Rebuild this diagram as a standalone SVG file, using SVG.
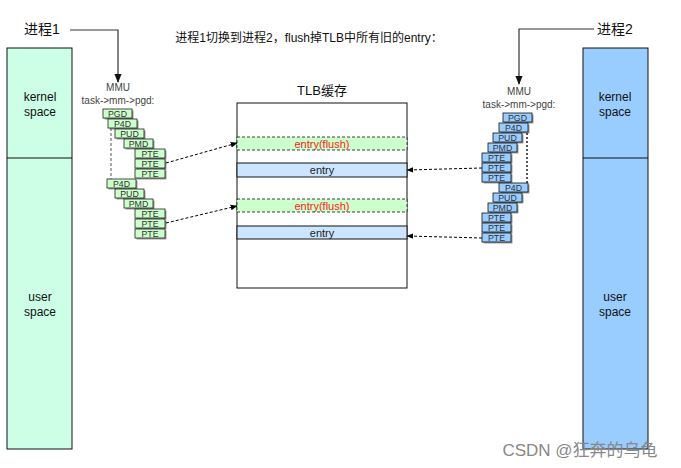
<svg xmlns="http://www.w3.org/2000/svg" width="681" height="468" viewBox="0 0 681 468">
<defs>
<style>
text{font-family:"Liberation Sans","Noto Sans CJK SC",sans-serif;}
.big{font-size:12px;fill:#111;text-anchor:middle;}
.lbl{font-size:8.8px;fill:#333;text-anchor:middle;}
.sm{font-size:10px;fill:#444;text-anchor:middle;}
.g{fill:#ccffcc;stroke:#222;stroke-width:0.8;}
.b{fill:#99ccff;stroke:#111;stroke-width:0.8;}
.sh{fill:#000;opacity:0.4;}
.dash{fill:none;stroke:#000;stroke-width:1;stroke-dasharray:3 2;}
.solid{fill:none;stroke:#333;stroke-width:1.2;}
</style>
<marker id="ah" viewBox="0 0 10 10" refX="9" refY="5" markerWidth="7" markerHeight="7" orient="auto" markerUnits="userSpaceOnUse">
<path d="M0,1 L10,5 L0,9 Z" fill="#000"/>
</marker>
<marker id="ah2" viewBox="0 0 10 10" refX="9" refY="5" markerWidth="9" markerHeight="9" orient="auto" markerUnits="userSpaceOnUse">
<path d="M0,1 L10,5 L0,9 Z" fill="#111"/>
</marker>
</defs>
<rect width="681" height="468" fill="#fff"/>

<text x="309" y="42" style="font-size:12px;fill:#111;text-anchor:middle">进程1切换到进程2，flush掉TLB中所有旧的entry：</text>

<g id="proc1">
<text x="42" y="34" style="font-size:14px;fill:#111;text-anchor:middle">进程1</text>
</g>
<g id="proc2">
<text x="615" y="34" style="font-size:14px;fill:#111;text-anchor:middle">进程2</text>
</g>

<g id="left-mem">
<rect x="7" y="48" width="65" height="401" fill="#ccffe6" stroke="#111" stroke-width="1"/>
<line x1="7" y1="158" x2="72" y2="158" stroke="#111" stroke-width="1"/>
<text class="big" x="40" y="101">kernel</text>
<text class="big" x="40" y="116">space</text>
<text class="big" x="40" y="301">user</text>
<text class="big" x="40" y="316">space</text>
</g>
<g id="right-mem">
<rect x="583" y="48" width="65" height="401" fill="#99ccff" stroke="#111" stroke-width="1"/>
<line x1="583" y1="158" x2="648" y2="158" stroke="#111" stroke-width="1"/>
<text class="big" x="615" y="101">kernel</text>
<text class="big" x="615" y="116">space</text>
<text class="big" x="615" y="301">user</text>
<text class="big" x="615" y="316">space</text>
</g>

<g id="mmu-left">
<text class="sm" x="118" y="91">MMU</text>
<text class="sm" x="118" y="104">task-&gt;mm-&gt;pgd:</text>
</g>
<g id="mmu-right">
<text class="sm" x="519" y="95">MMU</text>
<text class="sm" x="519" y="108">task-&gt;mm-&gt;pgd:</text>
</g>

<g id="tlb">
<text x="322" y="95" style="font-size:13px;fill:#111;text-anchor:middle">TLB缓存</text>
<rect x="237" y="103" width="170" height="185" fill="#fff" stroke="#111" stroke-width="1"/>
</g>
<g id="tlb-flush1">
<rect x="237" y="137" width="170" height="13" fill="#ccffcc" stroke="#111" stroke-width="0.8" stroke-dasharray="3 2"/>
<text x="322" y="147.5" style="font-size:11px;fill:#ff1a1a;text-anchor:middle">entry(flush)</text>
</g>
<g id="tlb-entry1">
<rect x="237" y="163" width="170" height="14" fill="#cce5ff" stroke="#111" stroke-width="1"/>
<text x="322" y="174" style="font-size:11px;fill:#222;text-anchor:middle">entry</text>
</g>
<g id="tlb-flush2">
<rect x="237" y="199" width="170" height="13" fill="#ccffcc" stroke="#111" stroke-width="0.8" stroke-dasharray="3 2"/>
<text x="322" y="209.5" style="font-size:11px;fill:#ff1a1a;text-anchor:middle">entry(flush)</text>
</g>
<g id="tlb-entry2">
<rect x="237" y="226" width="170" height="13" fill="#cce5ff" stroke="#111" stroke-width="1"/>
<text x="322" y="236.5" style="font-size:11px;fill:#222;text-anchor:middle">entry</text>
</g>

<!-- left page table stack -->
<g id="l-pgd"><rect class="sh" x="104.5" y="110.5" width="29" height="9"/><rect class="g" x="103" y="109" width="29" height="9"/><text class="lbl" x="117.5" y="116.6">PGD</text></g>
<g id="l-p4d1"><rect class="sh" x="109.5" y="120.5" width="29" height="9"/><rect class="g" x="108" y="119" width="29" height="9"/><text class="lbl" x="122.5" y="126.6">P4D</text></g>
<g id="l-pud1"><rect class="sh" x="116.5" y="130.5" width="29" height="9"/><rect class="g" x="115" y="129" width="29" height="9"/><text class="lbl" x="129.5" y="136.6">PUD</text></g>
<g id="l-pmd1"><rect class="sh" x="125.5" y="140.5" width="29" height="9"/><rect class="g" x="124" y="139" width="29" height="9"/><text class="lbl" x="138.5" y="146.6">PMD</text></g>
<g id="l-pte1"><rect class="sh" x="136.5" y="150.5" width="30" height="9"/><rect class="g" x="135" y="149" width="30" height="9"/><text class="lbl" x="150" y="156.6">PTE</text></g>
<g id="l-pte2"><rect class="sh" x="136.5" y="160.5" width="30" height="9"/><rect class="g" x="135" y="159" width="30" height="9"/><text class="lbl" x="150" y="166.6">PTE</text></g>
<g id="l-pte3"><rect class="sh" x="136.5" y="170.5" width="30" height="9"/><rect class="g" x="135" y="169" width="30" height="9"/><text class="lbl" x="150" y="176.6">PTE</text></g>
<g id="l-p4d2"><rect class="sh" x="108.5" y="180.5" width="29" height="9"/><rect class="g" x="107" y="179" width="29" height="9"/><text class="lbl" x="121.5" y="186.6">P4D</text></g>
<g id="l-pud2"><rect class="sh" x="116.5" y="190.5" width="29" height="9"/><rect class="g" x="115" y="189" width="29" height="9"/><text class="lbl" x="129.5" y="196.6">PUD</text></g>
<g id="l-pmd2"><rect class="sh" x="125.5" y="200.5" width="29" height="9"/><rect class="g" x="124" y="199" width="29" height="9"/><text class="lbl" x="138.5" y="206.6">PMD</text></g>
<g id="l-pte4"><rect class="sh" x="136.5" y="210.5" width="30" height="9"/><rect class="g" x="135" y="209" width="30" height="9"/><text class="lbl" x="150" y="216.6">PTE</text></g>
<g id="l-pte5"><rect class="sh" x="136.5" y="220.5" width="30" height="9"/><rect class="g" x="135" y="219" width="30" height="9"/><text class="lbl" x="150" y="226.6">PTE</text></g>
<g id="l-pte6"><rect class="sh" x="136.5" y="230.5" width="30" height="9"/><rect class="g" x="135" y="229" width="30" height="9"/><text class="lbl" x="150" y="236.6">PTE</text></g>

<!-- right page table stack -->
<g id="r-pgd"><rect class="sh" x="504.5" y="114.5" width="29" height="9"/><rect class="b" x="503" y="113" width="29" height="9"/><text class="lbl" x="517.5" y="120.6">PGD</text></g>
<g id="r-p4d1"><rect class="sh" x="500.5" y="124.5" width="29" height="9"/><rect class="b" x="499" y="123" width="29" height="9"/><text class="lbl" x="513.5" y="130.6">P4D</text></g>
<g id="r-pud1"><rect class="sh" x="494.5" y="134.5" width="29" height="9"/><rect class="b" x="493" y="133" width="29" height="9"/><text class="lbl" x="507.5" y="140.6">PUD</text></g>
<g id="r-pmd1"><rect class="sh" x="489.5" y="144.5" width="29" height="9"/><rect class="b" x="488" y="143" width="29" height="9"/><text class="lbl" x="502.5" y="150.6">PMD</text></g>
<g id="r-pte1"><rect class="sh" x="483.5" y="154.5" width="29" height="9"/><rect class="b" x="482" y="153" width="29" height="9"/><text class="lbl" x="496.5" y="160.6">PTE</text></g>
<g id="r-pte2"><rect class="sh" x="483.5" y="164.5" width="29" height="9"/><rect class="b" x="482" y="163" width="29" height="9"/><text class="lbl" x="496.5" y="170.6">PTE</text></g>
<g id="r-pte3"><rect class="sh" x="483.5" y="174.5" width="29" height="9"/><rect class="b" x="482" y="173" width="29" height="9"/><text class="lbl" x="496.5" y="180.6">PTE</text></g>
<g id="r-p4d2"><rect class="sh" x="500.5" y="184.5" width="29" height="9"/><rect class="b" x="499" y="183" width="29" height="9"/><text class="lbl" x="513.5" y="190.6">P4D</text></g>
<g id="r-pud2"><rect class="sh" x="494.5" y="194.5" width="29" height="9"/><rect class="b" x="493" y="193" width="29" height="9"/><text class="lbl" x="507.5" y="200.6">PUD</text></g>
<g id="r-pmd2"><rect class="sh" x="489.5" y="204.5" width="29" height="9"/><rect class="b" x="488" y="203" width="29" height="9"/><text class="lbl" x="502.5" y="210.6">PMD</text></g>
<g id="r-pte4"><rect class="sh" x="483.5" y="214.5" width="29" height="9"/><rect class="b" x="482" y="213" width="29" height="9"/><text class="lbl" x="496.5" y="220.6">PTE</text></g>
<g id="r-pte5"><rect class="sh" x="483.5" y="224.5" width="29" height="9"/><rect class="b" x="482" y="223" width="29" height="9"/><text class="lbl" x="496.5" y="230.6">PTE</text></g>
<g id="r-pte6"><rect class="sh" x="483.5" y="234.5" width="29" height="9"/><rect class="b" x="482" y="233" width="29" height="9"/><text class="lbl" x="496.5" y="240.6">PTE</text></g>

<g id="connectors">
<path class="solid" d="M70,30 H118 V82" marker-end="url(#ah2)"/>
<path class="solid" d="M594,29 H519 V84" marker-end="url(#ah2)"/>
<path d="M111,128 V179" fill="none" stroke="#555" stroke-width="1" stroke-dasharray="3 2"/>
<path d="M527,133 V183" fill="none" stroke="#222" stroke-width="1.5" stroke-dasharray="2 2"/>
<path class="dash" d="M166,163 L237,143" marker-end="url(#ah)"/>
<path class="dash" d="M166,223 L237,206" marker-end="url(#ah)"/>
<path class="dash" d="M482,168 L407,170" marker-end="url(#ah)"/>
<path class="dash" d="M482,238 L407,236" marker-end="url(#ah)"/>
</g>

<text x="580" y="456" style="font-size:17px;fill:#888;text-anchor:middle">CSDN @狂奔的乌龟</text>
</svg>
